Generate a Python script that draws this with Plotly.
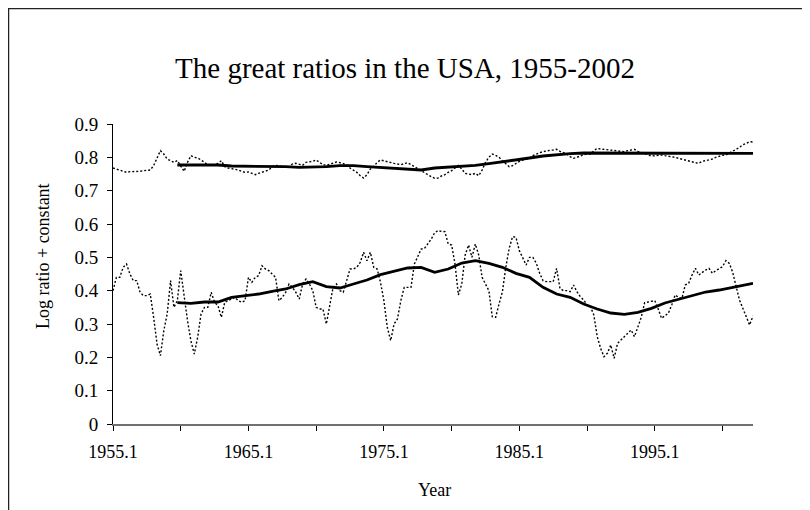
import plotly.graph_objects as go

# Quarterly categories 1955.1 ... 2002.2
years = list(range(1955, 2003))
quarters = [f"{y}.{q}" for y in years for q in (1, 2, 3, 4)][:190]

# Raw ratio series (dotted)
upper_raw = [
    0.768, 0.765, 0.762, 0.758, 0.755, 0.757, 0.757, 0.758, 0.758, 0.760,
    0.760, 0.762, 0.775, 0.800, 0.820, 0.810, 0.795, 0.790, 0.785, 0.790,
    0.772, 0.758, 0.785, 0.805, 0.800, 0.798, 0.792, 0.785, 0.778, 0.776,
    0.778, 0.782, 0.790, 0.772, 0.768, 0.766, 0.766, 0.762, 0.758, 0.755,
    0.756, 0.752, 0.748, 0.752, 0.755, 0.758, 0.762, 0.772, 0.776, 0.774,
    0.772, 0.770, 0.772, 0.780, 0.782, 0.778, 0.776, 0.785, 0.786, 0.788,
    0.792, 0.785, 0.778, 0.776, 0.780, 0.782, 0.786, 0.784, 0.782, 0.778,
    0.768, 0.762, 0.755, 0.745, 0.738, 0.748, 0.765, 0.772, 0.785, 0.792,
    0.789, 0.786, 0.783, 0.782, 0.780, 0.778, 0.781, 0.784, 0.778, 0.772,
    0.766, 0.760, 0.752, 0.747, 0.742, 0.737, 0.738, 0.744, 0.748, 0.755,
    0.760, 0.768, 0.776, 0.765, 0.752, 0.750, 0.748, 0.752, 0.745, 0.762,
    0.785, 0.800, 0.810, 0.806, 0.800, 0.790, 0.782, 0.772, 0.775, 0.782,
    0.788, 0.792, 0.794, 0.797, 0.805, 0.810, 0.814, 0.817, 0.820, 0.821,
    0.822, 0.824, 0.818, 0.814, 0.810, 0.802, 0.797, 0.800, 0.805, 0.808,
    0.810, 0.810, 0.820, 0.827, 0.825, 0.824, 0.822, 0.820, 0.819, 0.818,
    0.817, 0.817, 0.820, 0.823, 0.824, 0.818, 0.814, 0.810, 0.806, 0.804,
    0.805, 0.807, 0.807, 0.805, 0.804, 0.802, 0.800, 0.797, 0.794, 0.792,
    0.790, 0.787, 0.784, 0.782, 0.788, 0.790, 0.792, 0.795, 0.800, 0.804,
    0.806, 0.807, 0.812, 0.817, 0.824, 0.830, 0.838, 0.842, 0.847, 0.846,
]

lower_raw = [
    0.400, 0.440, 0.440, 0.470, 0.480, 0.450, 0.430, 0.430, 0.395, 0.385,
    0.385, 0.390, 0.320, 0.240, 0.205, 0.280, 0.330, 0.430, 0.350, 0.370,
    0.460, 0.380, 0.310, 0.250, 0.210, 0.260, 0.330, 0.350, 0.350, 0.395,
    0.365, 0.355, 0.320, 0.365, 0.370, 0.375, 0.380, 0.370, 0.365, 0.370,
    0.440, 0.425, 0.440, 0.445, 0.475, 0.465, 0.460, 0.450, 0.440, 0.370,
    0.380, 0.395, 0.420, 0.410, 0.395, 0.375, 0.420, 0.435, 0.420, 0.400,
    0.350, 0.345, 0.345, 0.300, 0.360, 0.410, 0.420, 0.400, 0.395, 0.430,
    0.465, 0.465, 0.470, 0.485, 0.515, 0.490, 0.515, 0.470, 0.465, 0.425,
    0.370, 0.290, 0.250, 0.300, 0.315, 0.370, 0.410, 0.410, 0.410, 0.480,
    0.500, 0.525, 0.527, 0.540, 0.555, 0.574, 0.580, 0.578, 0.577, 0.540,
    0.537, 0.480, 0.387, 0.420, 0.507, 0.537, 0.500, 0.540, 0.507, 0.440,
    0.420, 0.400, 0.322, 0.320, 0.360, 0.397, 0.470, 0.527, 0.562, 0.560,
    0.520, 0.497, 0.477, 0.500, 0.500, 0.482, 0.452, 0.430, 0.427, 0.427,
    0.427, 0.467, 0.407, 0.400, 0.400, 0.397, 0.417, 0.397, 0.382, 0.372,
    0.357, 0.352, 0.327, 0.262, 0.227, 0.202, 0.212, 0.237, 0.197, 0.242,
    0.252, 0.262, 0.275, 0.282, 0.262, 0.292, 0.320, 0.364, 0.366, 0.367,
    0.370, 0.345, 0.317, 0.325, 0.332, 0.357, 0.387, 0.380, 0.377, 0.417,
    0.422, 0.447, 0.467, 0.447, 0.455, 0.462, 0.467, 0.452, 0.460, 0.467,
    0.472, 0.490, 0.482, 0.455, 0.417, 0.372, 0.347, 0.320, 0.297, 0.324,
]

# Smoothed (5-year moving average) lines, read at yearly steps
smooth_idx = [19, 23, 27, 31, 35, 39, 43, 47, 51, 55, 59, 63, 67, 71, 75, 79,
              83, 87, 91, 95, 99, 103, 107, 111, 115, 119, 123, 127, 131, 135,
              139, 143, 147, 151, 155, 159, 163, 167, 171, 175, 179, 183, 187, 189]
upper_smooth = [
    0.777, 0.777, 0.777, 0.777, 0.774, 0.774, 0.774, 0.774, 0.772, 0.770,
    0.770, 0.772, 0.775, 0.775, 0.772, 0.770, 0.767, 0.765, 0.762, 0.768,
    0.770, 0.772, 0.776, 0.781, 0.786, 0.792, 0.798, 0.804, 0.808, 0.811,
    0.813, 0.813, 0.813, 0.812, 0.811, 0.811, 0.811, 0.811, 0.811, 0.811,
    0.811, 0.811, 0.812, 0.812,
]
lower_smooth = [
    0.364, 0.362, 0.366, 0.366, 0.380, 0.384, 0.390, 0.398, 0.405, 0.418,
    0.427, 0.412, 0.408, 0.420, 0.432, 0.448, 0.457, 0.468, 0.470, 0.455,
    0.465, 0.483, 0.490, 0.482, 0.470, 0.452, 0.440, 0.410, 0.390, 0.380,
    0.360, 0.345, 0.333, 0.329, 0.335, 0.347, 0.363, 0.374, 0.384, 0.396,
    0.402, 0.410, 0.420, 0.422,
]

tick_every = 20
label_every = 40
y_ticks = [0, 0.1, 0.2, 0.3, 0.4, 0.5, 0.6, 0.7, 0.8, 0.9]
y_ticktext = ["0", "0.1", "0.2", "0.3", "0.4", "0.5", "0.6", "0.7", "0.8", "0.9"]

FONT = "Liberation Serif, Times New Roman, serif"

smooth_x = [quarters[i] for i in smooth_idx]
x_tickvals = quarters[::tick_every]
x_ticktext = [q if (k * tick_every) % label_every == 0 else "" for k, q in enumerate(x_tickvals)]

# page is rendered with an 8px body margin: work in figure coordinates
OFF = 8
L, T, PW, PH = 113 - OFF, 124 - OFF, 640, 300
W, H = 810, 510


def px(xp):
    return (xp - OFF - L) / PW


def py(yp):
    return (T + PH - (yp - OFF)) / PH


fig = go.Figure()
dot_line = dict(color="black", width=1.4, dash="2px,2px")
fig.add_trace(go.Scatter(x=quarters, y=upper_raw, mode="lines", line=dot_line, showlegend=False))
fig.add_trace(go.Scatter(x=quarters, y=lower_raw, mode="lines", line=dot_line, showlegend=False))
fig.add_trace(go.Scatter(x=smooth_x, y=upper_smooth, mode="lines",
                         line=dict(color="black", width=2.8), showlegend=False))
fig.add_trace(go.Scatter(x=smooth_x, y=lower_smooth, mode="lines",
                         line=dict(color="black", width=2.8), showlegend=False))

fig.update_layout(
    width=W, height=H,
    margin=dict(l=L, r=W - L - PW, t=T, b=H - T - PH),
    paper_bgcolor="white", plot_bgcolor="white",
    font=dict(family=FONT, size=18, color="black"),
    title=dict(text="The great ratios in the USA, 1955-2002",
               font=dict(family=FONT, size=29, color="black"),
               x=(405 - OFF) / W, xref="container", xanchor="center",
               y=1 - (68 - OFF) / H, yref="container", yanchor="middle"),
    xaxis=dict(type="category", categoryorder="array", categoryarray=quarters,
               range=[0, len(quarters) - 1],
               tickmode="array", tickvals=x_tickvals, ticktext=x_ticktext,
               ticks="outside", ticklen=5, tickcolor="black", tickwidth=1,
               showline=True, linecolor="#707070", linewidth=1.5,
               showgrid=False, zeroline=False,
               tickfont=dict(family=FONT, size=18), ticklabelstandoff=6),
    yaxis=dict(range=[0, 0.9], tickmode="array", tickvals=y_ticks, ticktext=y_ticktext,
               ticks="outside", ticklen=5, tickcolor="black", tickwidth=1,
               showline=True, linecolor="black", linewidth=1,
               showgrid=False, zeroline=False,
               tickfont=dict(family=FONT, size=19), ticklabelstandoff=5),
    annotations=[
        dict(text="Log ratio + constant", textangle=-90, showarrow=False,
             xref="paper", yref="paper", x=px(43), y=py(256),
             xanchor="center", yanchor="middle",
             font=dict(family=FONT, size=18, color="black")),
        dict(text="Year", showarrow=False,
             xref="paper", yref="paper", x=px(434), y=py(490),
             xanchor="center", yanchor="middle",
             font=dict(family=FONT, size=18, color="black")),
    ],
    shapes=[
        dict(type="rect", xref="paper", yref="paper",
             x0=px(8.5), x1=2.0, y0=-2.0, y1=py(8.5),
             line=dict(color="#222", width=1.5), fillcolor="rgba(0,0,0,0)", layer="below"),
    ],
)

fig.write_html("out.html")
